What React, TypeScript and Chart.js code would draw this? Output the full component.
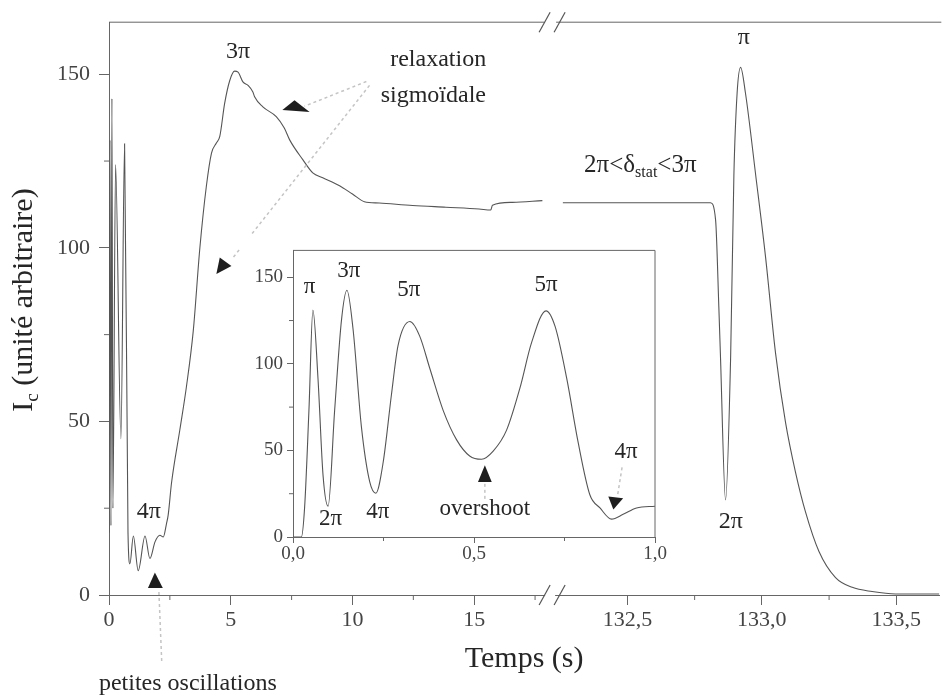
import React, { useEffect, useRef } from 'react';
import { Chart, registerables } from 'chart.js';

Chart.register(...registerables);

const SERIF = '"Liberation Serif", "DejaVu Serif", serif';
const AXIS = '#666';
const INK = '#262626';
const TICKINK = '#444';
const CURVE = '#555';
const PALE = '#c4c4c4';

// ---------- main chart, left segment (0 – 18.2 s) ----------
const leftTimes = [0, 0.04, 0.08, 0.12, 0.16, 0.27, 0.49, 0.64, 0.78, 0.86, 1.0, 1.2, 1.48, 1.68, 1.89, 2.09, 2.23, 2.36, 2.43, 2.57, 2.91, 3.18, 3.46, 3.73, 4.0, 4.21, 4.41, 4.55, 4.75, 4.96, 5.16, 5.3, 5.5, 5.71, 5.91, 5.98, 6.32, 6.87, 7.2, 7.42, 7.96, 8.37, 8.78, 9.47, 10.0, 10.49, 11.1, 12.47, 13.84, 15.2, 15.68, 15.75, 16.57, 17.8];
const leftValues = [18, 131, 20, 143, 25, 124, 45, 130, 18, 9, 17, 7, 17, 10.5, 15.3, 17.2, 16.7, 20.5, 23, 32.4, 47.6, 60, 76, 99.8, 117.8, 127.3, 130.2, 132.1, 141.6, 148.2, 150.9, 150.6, 147.8, 146.8, 144.9, 143.5, 140.6, 137.8, 134.5, 131.1, 125.4, 121.6, 120.2, 117.9, 115.5, 113.3, 112.9, 112.2, 111.7, 111.2, 110.9, 112.3, 113.1, 113.6];

// ---------- main chart, right segment (132.22 – 133.66 s) ----------
const rightTimes = [132.26, 132.5, 132.809, 132.828, 132.84, 132.846, 132.865, 132.884, 132.896, 132.908, 132.921, 132.939, 132.977, 133.014, 133.051, 133.088, 133.125, 133.162, 133.212, 133.274, 133.336, 133.41, 133.497, 133.66];
const rightValues = [113, 113, 113, 108, 83, 69, 27.4, 69, 121, 144.6, 152, 144.6, 121, 97.2, 69.6, 49.7, 35.4, 24, 12.6, 5, 2.2, 1, 0.3, 0.3];

// ---------- inset (0 – 1 s) ----------
const insetTimes = [0, 0.023, 0.032, 0.044, 0.055, 0.069, 0.083, 0.097, 0.115, 0.134, 0.149, 0.166, 0.189, 0.212, 0.229, 0.249, 0.272, 0.29, 0.323, 0.35, 0.378, 0.415, 0.452, 0.488, 0.521, 0.553, 0.59, 0.627, 0.659, 0.699, 0.724, 0.756, 0.788, 0.82, 0.848, 0.88, 0.912, 0.949, 1.0];
const insetValues = [0, 0, 16.8, 73, 131, 91.7, 35.6, 17.8, 73, 125.4, 142.5, 119.8, 63.6, 31.8, 25.3, 43, 82.3, 110.4, 124.4, 116, 97.3, 73, 56.1, 46.8, 44.9, 49.6, 61.7, 86.1, 112.2, 130.6, 121.6, 91.7, 54.3, 24.4, 16.8, 10.3, 13.1, 16.8, 17.8];

// ---------- ticks ----------
const yTickValues = [0, 50, 100, 150];
const yMinorValues = [25, 75, 125];
const leftTickValues = [0, 5, 10, 15];
const leftMinorValues = [2.5, 7.5, 12.5, 17.5];
const rightTickValues = [132.5, 133.0, 133.5];
const rightMinorValues = [132.75, 133.25];
const insetXTickValues = [0, 0.5, 1.0];
const insetXMinorValues = [0.25, 0.75];
const insetYTickValues = [0, 50, 100, 150];
const insetYMinorValues = [25, 75, 125];

// ---------- annotations (data coordinates) ----------
const mainLabels = [
  { text: '3π', axis: 'xL', t: 5.3, v: 156.5 },
  { text: '4π', axis: 'xL', t: 1.64, v: 23.9 },
  { text: 'relaxation', axis: 'xL', t: 13.52, v: 154.2 },
  { text: 'sigmoïdale', axis: 'xL', t: 13.32, v: 143.7 },
  { text: 'petites oscillations', axis: 'xL', t: 3.24, v: -25.6 },
  { text: 'π', axis: 'xR', t: 132.933, v: 160.5 },
  { text: '2π', axis: 'xR', t: 132.885, v: 21.1 },
];
const mainTriangles = [
  { axis: 'xL', pts: [[7.12, 139.7], [7.62, 142.5], [8.24, 139.1]] },
  { axis: 'xL', pts: [[4.41, 92.5], [4.55, 97.2], [5.03, 94.8]] },
  { axis: 'xL', pts: [[1.885, 6.5], [1.6, 2.0], [2.21, 2.0]] },
];
const mainPaleLines = [
  { axis: 'xL', from: [10.57, 147.9], to: [8.03, 140.8] },
  { axis: 'xL', from: [10.7, 146.8], to: [5.04, 96.7] },
  { axis: 'xL', from: [2.05, 0.85], to: [2.17, -19.9] },
];
const insetLabels = [
  { text: 'π', t: 0.046, v: 144.5 },
  { text: '3π', t: 0.154, v: 153.6 },
  { text: '5π', t: 0.32, v: 142.4 },
  { text: '5π', t: 0.699, v: 145.7 },
  { text: '2π', t: 0.104, v: 10.5 },
  { text: '4π', t: 0.234, v: 14.4 },
  { text: 'overshoot', t: 0.53, v: 16.1 },
  { text: '4π', t: 0.92, v: 49.2 },
];
const insetTriangles = [
  [[0.53, 41.4], [0.511, 31.8], [0.549, 31.8]],
  [[0.871, 23.4], [0.912, 22.4], [0.885, 15.9]],
];
const insetPaleLines = [
  { from: [0.53, 30.7], to: [0.53, 20.6] },
  { from: [0.909, 40.2], to: [0.897, 24.5] },
];

const fmtComma = (v: number) => v.toFixed(1).replace('.', ',');

function text(ctx: CanvasRenderingContext2D, s: string, x: number, y: number, size: number, align: CanvasTextAlign = 'center') {
  ctx.font = `${size}px ${SERIF}`;
  ctx.fillStyle = INK;
  ctx.textAlign = align;
  ctx.textBaseline = 'middle';
  ctx.fillText(s, x, y);
}
function tri(ctx: CanvasRenderingContext2D, p: number[][]) {
  ctx.beginPath();
  ctx.moveTo(p[0][0], p[0][1]);
  ctx.lineTo(p[1][0], p[1][1]);
  ctx.lineTo(p[2][0], p[2][1]);
  ctx.closePath();
  ctx.fillStyle = '#1e1e1e';
  ctx.fill();
}
function pale(ctx: CanvasRenderingContext2D, a: number[], b: number[]) {
  ctx.save();
  ctx.strokeStyle = PALE;
  ctx.lineWidth = 1.5;
  ctx.setLineDash([3, 3]);
  ctx.beginPath();
  ctx.moveTo(a[0], a[1]);
  ctx.lineTo(b[0], b[1]);
  ctx.stroke();
  ctx.restore();
}
function seg(ctx: CanvasRenderingContext2D, x1: number, y1: number, x2: number, y2: number) {
  ctx.beginPath();
  ctx.moveTo(x1, y1);
  ctx.lineTo(x2, y2);
  ctx.stroke();
}

const mainDecor = {
  id: 'mainDecor',
  afterDraw(chart: any) {
    const ctx: CanvasRenderingContext2D = chart.ctx;
    const a = chart.chartArea;
    const sc = chart.scales;
    const P = (axis: string, t: number, v: number) => [sc[axis].getPixelForValue(t), sc.y.getPixelForValue(v)];
    const bx = sc.xL.right;
    ctx.save();
    ctx.strokeStyle = AXIS;
    ctx.lineWidth = 1;
    // top frame with break
    seg(ctx, a.left, a.top, bx - 8, a.top);
    seg(ctx, bx + 4, a.top, a.right + 2, a.top);
    // break marks
    for (const yy of [a.top, a.bottom]) {
      ctx.fillStyle = '#fff';
      ctx.fillRect(bx - 7, yy - 2, 10, 4);
      ctx.strokeStyle = '#555';
      ctx.lineWidth = 1.2;
      seg(ctx, bx - 13, yy + 10, bx - 2, yy - 10);
      seg(ctx, bx + 2, yy + 10, bx + 13, yy - 10);
    }
    ctx.strokeStyle = AXIS;
    ctx.lineWidth = 1;
    // minor ticks
    for (const v of yMinorValues) {
      const py = sc.y.getPixelForValue(v);
      seg(ctx, a.left - 5, py, a.left, py);
    }
    for (const t of leftMinorValues) {
      const p = sc.xL.getPixelForValue(t);
      seg(ctx, p, a.bottom, p, a.bottom + 5);
    }
    for (const t of rightMinorValues) {
      const p = sc.xR.getPixelForValue(t);
      seg(ctx, p, a.bottom, p, a.bottom + 5);
    }
    // pale arrow lines
    for (const l of mainPaleLines) {
      pale(ctx, P(l.axis, l.from[0], l.from[1]), P(l.axis, l.to[0], l.to[1]));
    }
    for (const tr of mainTriangles) {
      tri(ctx, tr.pts.map((q) => P(tr.axis, q[0], q[1])));
    }
    for (const l of mainLabels) {
      const [x, y] = P(l.axis, l.t, l.v);
      text(ctx, l.text, x, y, 24);
    }
    // 2π<δstat<3π
    {
      const [x, y] = P('xR', 132.339, 123.8);
      ctx.font = `25px ${SERIF}`;
      ctx.fillStyle = INK;
      ctx.textAlign = 'left';
      ctx.textBaseline = 'middle';
      const p1 = '2π<δ';
      ctx.fillText(p1, x, y);
      let cx = x + ctx.measureText(p1).width;
      ctx.font = `16px ${SERIF}`;
      ctx.fillText('stat', cx, y + 8);
      cx += ctx.measureText('stat').width;
      ctx.font = `25px ${SERIF}`;
      ctx.fillText('<3π', cx, y);
    }
    // axis titles
    text(ctx, 'Temps (s)', (a.left + a.right) / 2, 659, 30);
    ctx.save();
    ctx.translate(24, 300);
    ctx.rotate(-Math.PI / 2);
    ctx.fillStyle = INK;
    ctx.textBaseline = 'middle';
    ctx.textAlign = 'left';
    ctx.font = `30px ${SERIF}`;
    const wI = ctx.measureText('I').width;
    const rest = ' (unité arbitraire)';
    const wR = ctx.measureText(rest).width;
    ctx.font = `19px ${SERIF}`;
    const wc = ctx.measureText('c').width;
    let sx = -(wI + wc + wR) / 2;
    ctx.font = `30px ${SERIF}`;
    ctx.fillText('I', sx, 0);
    sx += wI;
    ctx.font = `19px ${SERIF}`;
    ctx.fillText('c', sx, 9);
    sx += wc;
    ctx.font = `30px ${SERIF}`;
    ctx.fillText(rest, sx, 0);
    ctx.restore();
    ctx.restore();
  },
};

const insetDecor = {
  id: 'insetDecor',
  beforeDraw(chart: any) {
    const ctx: CanvasRenderingContext2D = chart.ctx;
    ctx.save();
    ctx.fillStyle = '#fff';
    ctx.fillRect(0, 0, chart.width, chart.height);
    ctx.restore();
  },
  afterDraw(chart: any) {
    const ctx: CanvasRenderingContext2D = chart.ctx;
    const a = chart.chartArea;
    const sc = chart.scales;
    const P = (t: number, v: number) => [sc.x.getPixelForValue(t), sc.y.getPixelForValue(v)];
    ctx.save();
    ctx.strokeStyle = AXIS;
    ctx.lineWidth = 1;
    seg(ctx, a.left, a.top, a.right, a.top);
    seg(ctx, a.right, a.top, a.right, a.bottom);
    for (const v of insetYMinorValues) {
      const py = sc.y.getPixelForValue(v);
      seg(ctx, a.left - 4, py, a.left, py);
    }
    for (const t of insetXMinorValues) {
      const p = sc.x.getPixelForValue(t);
      seg(ctx, p, a.bottom, p, a.bottom + 4);
    }
    for (const l of insetPaleLines) pale(ctx, P(l.from[0], l.from[1]), P(l.to[0], l.to[1]));
    for (const tr of insetTriangles) tri(ctx, tr.map((q) => P(q[0], q[1])));
    for (const l of insetLabels) {
      const [x, y] = P(l.t, l.v);
      text(ctx, l.text, x, y, 23);
    }
    ctx.restore();
  },
};

function axisBase(size: number, tickLen: number, pad: number) {
  return {
    type: 'linear' as const,
    grid: { drawOnChartArea: false, drawTicks: true, tickLength: tickLen, color: AXIS, tickColor: AXIS },
    border: { display: true, color: AXIS, width: 1 },
    ticks: { font: { family: SERIF, size }, color: TICKINK, padding: pad, maxRotation: 0, autoSkip: false, includeBounds: false },
  };
}

export default function App() {
  const mainRef = useRef<HTMLCanvasElement>(null);
  const insetRef = useRef<HTMLCanvasElement>(null);

  useEffect(() => {
    const lineStyle = { borderColor: CURVE, borderWidth: 1.1, pointRadius: 0, fill: false, cubicInterpolationMode: 'monotone' as const };
    const main = new Chart(mainRef.current as HTMLCanvasElement, {
      type: 'line',
      data: {
        datasets: [
          { ...lineStyle, xAxisID: 'xL', yAxisID: 'y', data: leftTimes.map((t, i) => ({ x: t, y: leftValues[i] })) },
          { ...lineStyle, xAxisID: 'xR', yAxisID: 'y', data: rightTimes.map((t, i) => ({ x: t, y: rightValues[i] })) },
        ],
      },
      options: {
        animation: false,
        responsive: true,
        maintainAspectRatio: false,
        layout: { padding: { top: 15, right: 1, left: 0, bottom: 0 } },
        plugins: { legend: { display: false }, tooltip: { enabled: false } },
        scales: {
          xL: {
            ...axisBase(22, 10, 2),
            position: 'bottom',
            stack: 'x',
            stackWeight: 444,
            min: 0,
            max: 18.2,
            afterBuildTicks: (s: any) => { s.ticks = leftTickValues.map((value) => ({ value })); },
            afterFit: (s: any) => { s.height = 104; },
            ticks: { ...axisBase(22, 10, 2).ticks, callback: (v: any) => String(v) },
          },
          xR: {
            ...axisBase(22, 10, 2),
            position: 'bottom',
            stack: 'x',
            stackWeight: 388,
            min: 132.22,
            max: 133.66,
            afterBuildTicks: (s: any) => { s.ticks = rightTickValues.map((value) => ({ value })); },
            afterFit: (s: any) => { s.height = 104; },
            ticks: { ...axisBase(22, 10, 2).ticks, callback: (v: any) => fmtComma(Number(v)) },
          },
          y: {
            ...axisBase(22, 10, 9),
            position: 'left',
            min: 0,
            max: 165,
            afterBuildTicks: (s: any) => { s.ticks = yTickValues.map((value) => ({ value })); },
            afterFit: (s: any) => { s.width = 109; },
            ticks: { ...axisBase(22, 10, 9).ticks, callback: (v: any) => String(v) },
          },
        },
      } as any,
      plugins: [mainDecor],
    });

    const inset = new Chart(insetRef.current as HTMLCanvasElement, {
      type: 'line',
      data: {
        datasets: [
          { ...lineStyle, xAxisID: 'x', yAxisID: 'y', data: insetTimes.map((t, i) => ({ x: t, y: insetValues[i] })) },
        ],
      },
      options: {
        animation: false,
        responsive: true,
        maintainAspectRatio: false,
        layout: { padding: { top: 7, right: 15, left: 0, bottom: 0 } },
        plugins: { legend: { display: false }, tooltip: { enabled: false } },
        scales: {
          x: {
            ...axisBase(19, 6, 0),
            position: 'bottom',
            min: 0,
            max: 1,
            afterBuildTicks: (s: any) => { s.ticks = insetXTickValues.map((value) => ({ value })); },
            afterFit: (s: any) => { s.height = 33; },
            ticks: { ...axisBase(19, 6, 0).ticks, callback: (v: any) => fmtComma(Number(v)) },
          },
          y: {
            ...axisBase(19, 6, 4),
            position: 'left',
            min: 0,
            max: 165.5,
            afterBuildTicks: (s: any) => { s.ticks = insetYTickValues.map((value) => ({ value })); },
            afterFit: (s: any) => { s.width = 53; },
            ticks: { ...axisBase(19, 6, 4).ticks, callback: (v: any) => String(v) },
          },
        },
      } as any,
      plugins: [insetDecor],
    });

    return () => {
      main.destroy();
      inset.destroy();
    };
  }, []);

  return (
    <div style={{ position: 'absolute', left: 0, top: 0, width: 942, height: 699, background: '#fff', overflow: 'hidden' }}>
      <div style={{ position: 'absolute', left: 0, top: 0, width: 942, height: 699 }}>
        <canvas ref={mainRef} />
      </div>
      <div style={{ position: 'absolute', left: 240, top: 235, width: 430, height: 335 }}>
        <canvas ref={insetRef} />
      </div>
    </div>
  );
}
